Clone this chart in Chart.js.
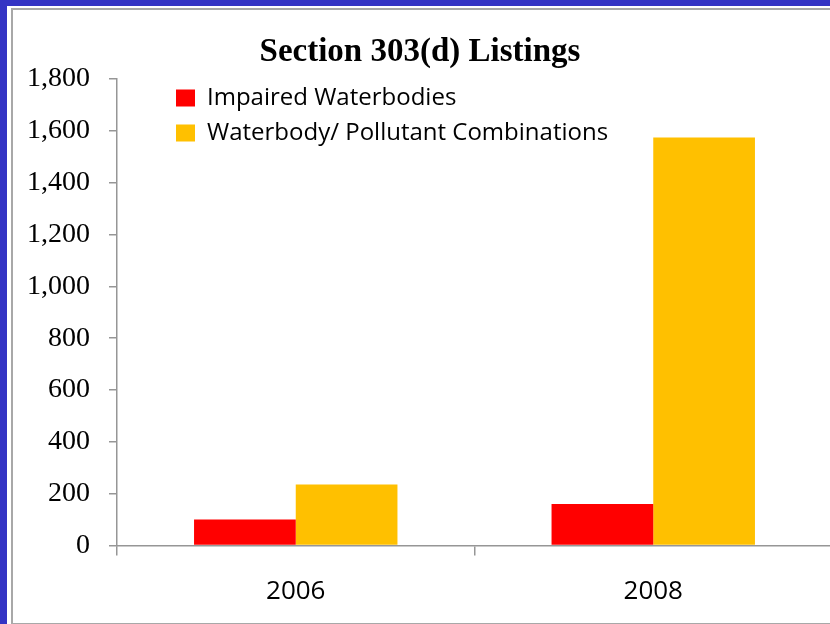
<!DOCTYPE html>
<html>
<head>
<meta charset="utf-8">
<script src="https://cdn.jsdelivr.net/npm/chart.js@4.4.0/dist/chart.umd.min.js"></script>
<style>
  html, body { margin: 0; padding: 0; overflow: hidden; }
  body { width: 830px; height: 624px; background: #3434c4; position: relative; }
  #paper { position: absolute; left: 7px; top: 6px; width: 900px; height: 640px; background: #fff; }
  #frame { position: absolute; left: 11px; top: 8px; width: 900px; height: 613px; border: 2px solid #a8a8a8; border-right: none; }
  #wrap { position: absolute; left: 0; top: 0; }
</style>
</head>
<body>
<div id="paper"></div>
<div id="frame"></div>
<div id="wrap"><canvas id="listingsChart" width="850" height="624"></canvas></div>
<script>
// Chart data
const years = ['2006', '2008'];
const impairedWaterbodies = [100, 160];
const pollutantCombinations = [235, 1575];
const seriesLabels = ['Impaired Waterbodies', 'Waterbody/ Pollutant Combinations'];
const yMax = 1800;
const yStep = 200;

const axisGray = '#969696';

// Puts the legend in the top-left of the plot, like the original
const legendInPlot = {
    id: 'legendInPlot',
    afterLayout(chart) {
        const legend = chart.legend;
        const area = chart.chartArea;
        legend.left = area.left + 48;
        legend.right = legend.left + legend.width;
        legend.top = area.top - 4;
        legend.bottom = legend.top + legend.height;
    }
};

const ctx = document.getElementById('listingsChart').getContext('2d');

new Chart(ctx, {
    type: 'bar',
    data: {
        labels: years,
        datasets: [{
            label: seriesLabels[0],
            data: impairedWaterbodies,
            backgroundColor: '#ff0000',
            borderWidth: 0
        }, {
            label: seriesLabels[1],
            data: pollutantCombinations,
            backgroundColor: '#ffc000',
            borderWidth: 0
        }]
    },
    options: {
        responsive: false,
        animation: false,
        layout: {
            padding: { left: 8, right: 18, top: 0, bottom: 20 }
        },
        datasets: {
            bar: { categoryPercentage: 0.569, barPercentage: 1 }
        },
        plugins: {
            title: {
                display: true,
                text: 'Section 303(d) Listings',
                color: '#000',
                font: { family: 'Liberation Serif', size: 33, weight: 'bold', lineHeight: 1.2 },
                padding: { top: 33, bottom: 6.5 }
            },
            legend: {
                position: 'chartArea',
                align: 'start',
                labels: {
                    color: '#000',
                    boxWidth: 19,
                    boxHeight: 17,
                    padding: 11,
                    font: { family: 'Open Sans', size: 24, lineHeight: 1.0 }
                }
            },
            tooltip: { enabled: false }
        },
        scales: {
            x: {
                afterFit(scale) {
                    scale.height = 58.5;
                },
                grid: {
                    display: true,
                    drawOnChartArea: false,
                    drawTicks: true,
                    tickLength: 10,
                    color: axisGray,
                    lineWidth: 1.5
                },
                border: { display: true, color: axisGray, width: 1.5 },
                ticks: {
                    color: '#000',
                    padding: 20,
                    font: { family: 'Open Sans', size: 26 }
                }
            },
            y: {
                min: 0,
                max: yMax,
                afterFit(scale) {
                    scale.width = 109;
                },
                grid: {
                    display: true,
                    drawOnChartArea: false,
                    drawTicks: true,
                    tickLength: 8,
                    color: axisGray,
                    lineWidth: 1.5
                },
                border: { display: true, color: axisGray, width: 1.5 },
                ticks: {
                    stepSize: yStep,
                    color: '#000',
                    padding: 19,
                    font: { family: 'Liberation Serif', size: 28 }
                }
            }
        }
    },
    plugins: [legendInPlot]
});
</script>
</body>
</html>
